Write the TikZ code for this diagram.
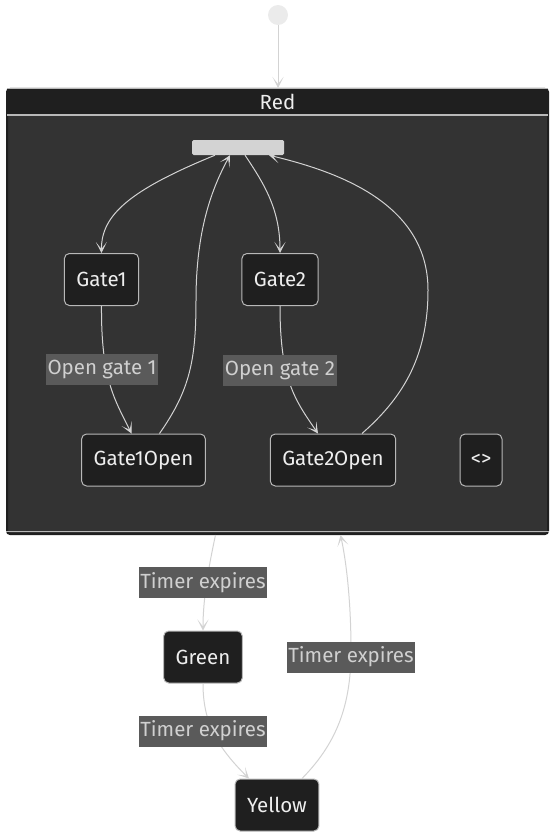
\documentclass[tikz,border=0pt]{standalone}
\usepackage{fontspec}
\setmainfont{Fira Sans}
\usetikzlibrary{arrows.meta}
\definecolor{bodygray}{HTML}{333333}
\definecolor{boxfill}{HTML}{1F1F1F}
\definecolor{boxline}{HTML}{B8B8B8}
\definecolor{edgegray}{HTML}{D3D3D3}
\definecolor{labelfill}{HTML}{5A5A5A}
\definecolor{labeltext}{HTML}{D0D0D0}
\definecolor{nodetext}{HTML}{EEEEEE}
\definecolor{startfill}{HTML}{EBEBEB}

\begin{document}
\begin{tikzpicture}[x=1pt, y=-1pt,
  every node/.style={font=\fontsize{20.5}{24}\selectfont},
  state/.style={rectangle, rounded corners=5pt, draw=boxline, line width=1pt, fill=boxfill, text=nodetext, minimum height=52pt, inner xsep=12pt},
  elabel/.style={rectangle, fill=labelfill, text=labeltext, minimum height=31pt, inner xsep=1.5pt, inner ysep=0pt},
  edge/.style={draw=edgegray, line width=1pt, -{Stealth[length=11pt, width=11pt, inset=7pt]}}]
  \useasboundingbox (0,0) rectangle (556,840);
  \node (start) at (278,15) [circle, fill=startfill, minimum size=20pt, inner sep=0pt] {};
  \node (redbox) at (277.5,311.5) [rectangle, fill=bodygray, draw=boxfill, line width=2pt, rounded corners=3pt, minimum width=541pt, minimum height=445pt, inner sep=0pt] {};
  \node (red) at (277.5,102) [rectangle, fill=boxfill, text=nodetext, minimum width=541pt, minimum height=26pt, inner sep=0pt, rounded corners=3pt] {Red};
  \draw[boxline, line width=1pt] (red.north west) -- (red.north east);
  \draw[boxline, line width=1.5pt] (red.south west) -- (red.south east);
  \draw[boxline, line width=1pt] ([yshift=4pt]redbox.south west) -- ([yshift=4pt]redbox.south east);
  \node (fork) at (238,147.5) [rectangle, fill=edgegray, rounded corners=1.5pt, minimum width=92pt, minimum height=15pt, inner sep=0pt] {};
  \node (gate1) at (101.5,279.5) [state] {Gate1};
  \node (gate2) at (280,279.5) [state] {Gate2};
  \node (gate1open) at (143.5,460) [state] {Gate1Open};
  \node (gate2open) at (333,460) [state] {Gate2Open};
  \node (empty) at (481,460) [state, minimum width=42pt, inner xsep=0pt] {<>};
  \node (green) at (203,657) [state] {Green};
  \node (yellow) at (277,805) [state] {Yellow};
  \draw[edge] (start) -- (278,88);
  \draw[edge] ([xshift=-23pt]fork.south) .. controls (130,190) and (101,215) .. (gate1.north);
  \draw[edge] ([xshift=16pt]gate1open.north) .. controls (190,390) and (196,360) .. (196,300) .. controls (196,230) and (212,188) .. ([xshift=-8pt]fork.south);
  \draw[edge] ([xshift=7pt]fork.south) .. controls (265,185) and (280,210) .. (gate2.north);
  \draw[edge] ([xshift=29pt]gate2open.north) .. controls (400,400) and (428,360) .. (428,290) .. controls (428,200) and (330,170) .. ([xshift=31pt]fork.south);
  \draw[edge] (gate1.south) .. controls (101,380) and (115,400) .. ([xshift=-12pt]gate1open.north);
  \draw[edge] (gate2.south) .. controls (280,380) and (295,400) .. ([xshift=-15pt]gate2open.north);
  \draw[edge] ([xshift=-62pt]redbox.south) .. controls (208,570) and (203,600) .. (green.north);
  \draw[edge] (green.south) .. controls (203,720) and (215,745) .. ([xshift=-28pt]yellow.north);
  \draw[edge] ([xshift=25pt]yellow.north) .. controls (340,740) and (351,700) .. (351,650) .. controls (351,600) and (346,560) .. ([xshift=63pt]redbox.south);
  \node (open1) at (102,369.5) [elabel] {Open gate 1};
  \node (open2) at (280,370) [elabel] {Open gate 2};
  \node (timer1) at (203,582.5) [elabel] {Timer expires};
  \node (timer2) at (203,731) [elabel] {Timer expires};
  \node (timer3) at (351,657) [elabel] {Timer expires};
\end{tikzpicture}
\end{document}
